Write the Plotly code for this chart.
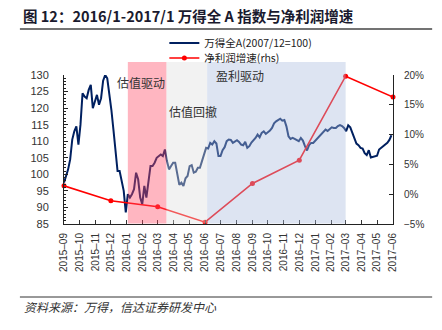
import plotly.graph_objects as go
import pandas as pd

# ---------------- data ----------------
index_dates = pd.date_range("2015-09-01", periods=160, freq="4D")
index_values = [
    97.5, 99.5, 101.5, 104.5, 110.5, 113.0, 114.5, 109.0, 115.0, 124.5,
    123.5, 123.0, 125.5, 127.0, 120.0, 122.0, 124.0, 121.0, 123.0, 128.3,
    130.0, 129.0, 124.5, 119.5, 113.5, 107.5, 101.0, 101.0, 97.5, 95.0,
    88.5, 94.0, 93.0, 94.0, 95.5, 100.5, 98.5, 93.0, 91.0, 96.5,
    93.0, 97.5, 102.5, 102.5, 103.5, 105.0, 105.5, 106.0, 105.5, 107.5,
    104.0, 101.5, 102.5, 103.5, 103.5, 99.5, 96.8, 97.5, 96.5, 98.8,
    99.5, 102.5, 102.8, 100.5, 100.8, 102.0, 102.0, 104.0, 106.0, 108.0,
    107.8, 109.5, 109.0, 110.0, 109.3, 105.5, 105.5, 107.3, 108.2, 110.0,
    110.5, 110.4, 109.5, 110.0, 110.3, 109.8, 109.0, 108.8, 109.8, 108.0,
    108.5, 109.6, 110.2, 111.0, 112.0, 111.2, 112.5, 113.0, 112.2, 112.7,
    113.2, 114.0, 115.4, 116.0, 116.3, 116.8, 116.2, 116.4, 114.5, 111.5,
    110.7, 111.0, 110.7, 110.3, 110.0, 111.0, 110.2, 108.5, 107.2, 108.8,
    109.5, 109.5, 110.2, 111.0, 111.5, 112.2, 112.8, 113.5, 113.1, 113.8,
    114.2, 114.0, 114.0, 114.6, 114.9, 114.6, 114.0, 113.0, 114.8, 114.2,
    112.5, 111.2, 109.3, 108.8, 108.0, 107.8, 106.4, 105.8, 107.3, 105.1,
    105.3, 105.4, 105.6, 107.5, 108.0, 108.3, 109.0, 109.5, 110.4, 111.8,
]
profit_dates = ["2015-09-01", "2015-12-01", "2016-03-01", "2016-06-01",
                "2016-09-01", "2016-12-01", "2017-03-01", "2017-06-01"]
profit_growth = [1.4, -1.1, -2.1, -4.7, 1.8, 5.7, 19.8, 16.3]

month_ticks = pd.date_range("2015-09-01", "2017-06-01", freq="MS")
month_labels = [d.strftime("%Y–%m") for d in month_ticks]

phase_starts = ["2016-01-03", "2016-03-18", "2016-06-05"]
phase_ends = ["2016-03-18", "2016-06-05", "2017-03-01"]
phase_colors = ["rgb(255,72,100)", "rgb(222,222,222)", "rgb(170,187,222)"]
phase_labels = ["估值驱动", "估值回撤", "盈利驱动"]
phase_label_x = ["2016-01-29", "2016-05-08", "2016-08-07"]
phase_label_y = [127.8, 118.9, 130.0]

NAVY = "#002060"
RED = "#FF0000"
FONT = "Liberation Sans, Arial, sans-serif"
CJK = "Noto Sans CJK SC, sans-serif"

fig = go.Figure()
fig.add_trace(go.Scatter(
    x=index_dates, y=index_values, mode="lines",
    name="万得全A(2007/12=100)", legend="legend",
    line=dict(color=NAVY, width=2),
))
fig.add_trace(go.Scatter(
    x=profit_dates, y=profit_growth, mode="lines+markers",
    name="净利润增速(rhs)", yaxis="y2", legend="legend2",
    line=dict(color=RED, width=1.6),
    marker=dict(color=RED, size=5),
    cliponaxis=False,
))

shapes = []
for s, e, c in zip(phase_starts, phase_ends, phase_colors):
    shapes.append(dict(type="rect", xref="x", yref="paper", x0=s, x1=e,
                       y0=0.004, y1=1.087, fillcolor=c, opacity=0.4,
                       line=dict(width=0), layer="above"))
# title underline and footer rule
shapes.append(dict(type="line", xref="paper", yref="paper", x0=-0.134, x1=1.119,
                   y0=1.309, y1=1.309, line=dict(color="#444", width=1.5)))
shapes.append(dict(type="line", xref="paper", yref="paper", x0=-0.134, x1=1.119,
                   y0=-0.49, y1=-0.49, line=dict(color="#333", width=1)))

annotations = []
for t, x, y in zip(phase_labels, phase_label_x, phase_label_y):
    annotations.append(dict(text=t, x=x, y=y, xref="x", yref="y",
                            showarrow=False, font=dict(family=CJK, size=12, color="#333")))
annotations.append(dict(text="<i>资料来源：万得，信达证券研发中心</i>", x=-0.128, y=-0.557,
                        xref="paper", yref="paper", xanchor="left", yanchor="middle",
                        showarrow=False, font=dict(family=CJK, size=12, color="#333")))

legend_style = dict(xanchor="left", yanchor="middle", bgcolor="rgba(0,0,0,0)",
                    font=dict(family=CJK, size=10.5, color="#222"), itemwidth=30)

fig.update_layout(
    width=442, height=330,
    margin=dict(l=64, r=49, t=75, b=106, pad=0),
    paper_bgcolor="white", plot_bgcolor="white",
    title=dict(text="<b>图 12：2016/1-2017/1 万得全 A 指数与净利润增速</b>",
               x=23 / 442, xanchor="left", y=1 - 17 / 330, yanchor="middle",
               font=dict(family=CJK, size=14.5, color="#1a1a2e")),
    showlegend=True,
    legend=dict(x=0.305, y=1.215, **legend_style),
    legend2=dict(x=0.305, y=1.114, **legend_style),
    xaxis=dict(
        type="date", range=["2015-09-01", "2017-06-01"],
        tickvals=month_ticks, ticktext=month_labels, tickangle=-90,
        ticks="inside", ticklen=4, tickcolor="#333",
        showline=True, linecolor="#222", linewidth=1, showgrid=False, zeroline=False,
        tickfont=dict(family=FONT, size=10, color="#333"),
        ticklabelstandoff=4,
    ),
    yaxis=dict(
        range=[85, 130], dtick=5, tick0=85,
        ticks="inside", ticklen=4, tickcolor="#222",
        minor=dict(ticks="inside", ticklen=2, dtick=1, tickcolor="#222"),
        showline=True, linecolor="#222", linewidth=1, showgrid=False, zeroline=False,
        tickfont=dict(family=FONT, size=11, color="#333"),
        ticklabelstandoff=12,
    ),
    yaxis2=dict(
        overlaying="y", side="right",
        range=[-5, 20], dtick=5, tick0=-5, ticksuffix="%",
        ticks="inside", ticklen=4, tickcolor="#222",
        showline=True, linecolor="#222", linewidth=1, showgrid=False, zeroline=False,
        tickfont=dict(family=FONT, size=10, color="#333"),
        ticklabelstandoff=8,
    ),
    shapes=shapes,
    annotations=annotations,
)

fig.write_html("out.html")
